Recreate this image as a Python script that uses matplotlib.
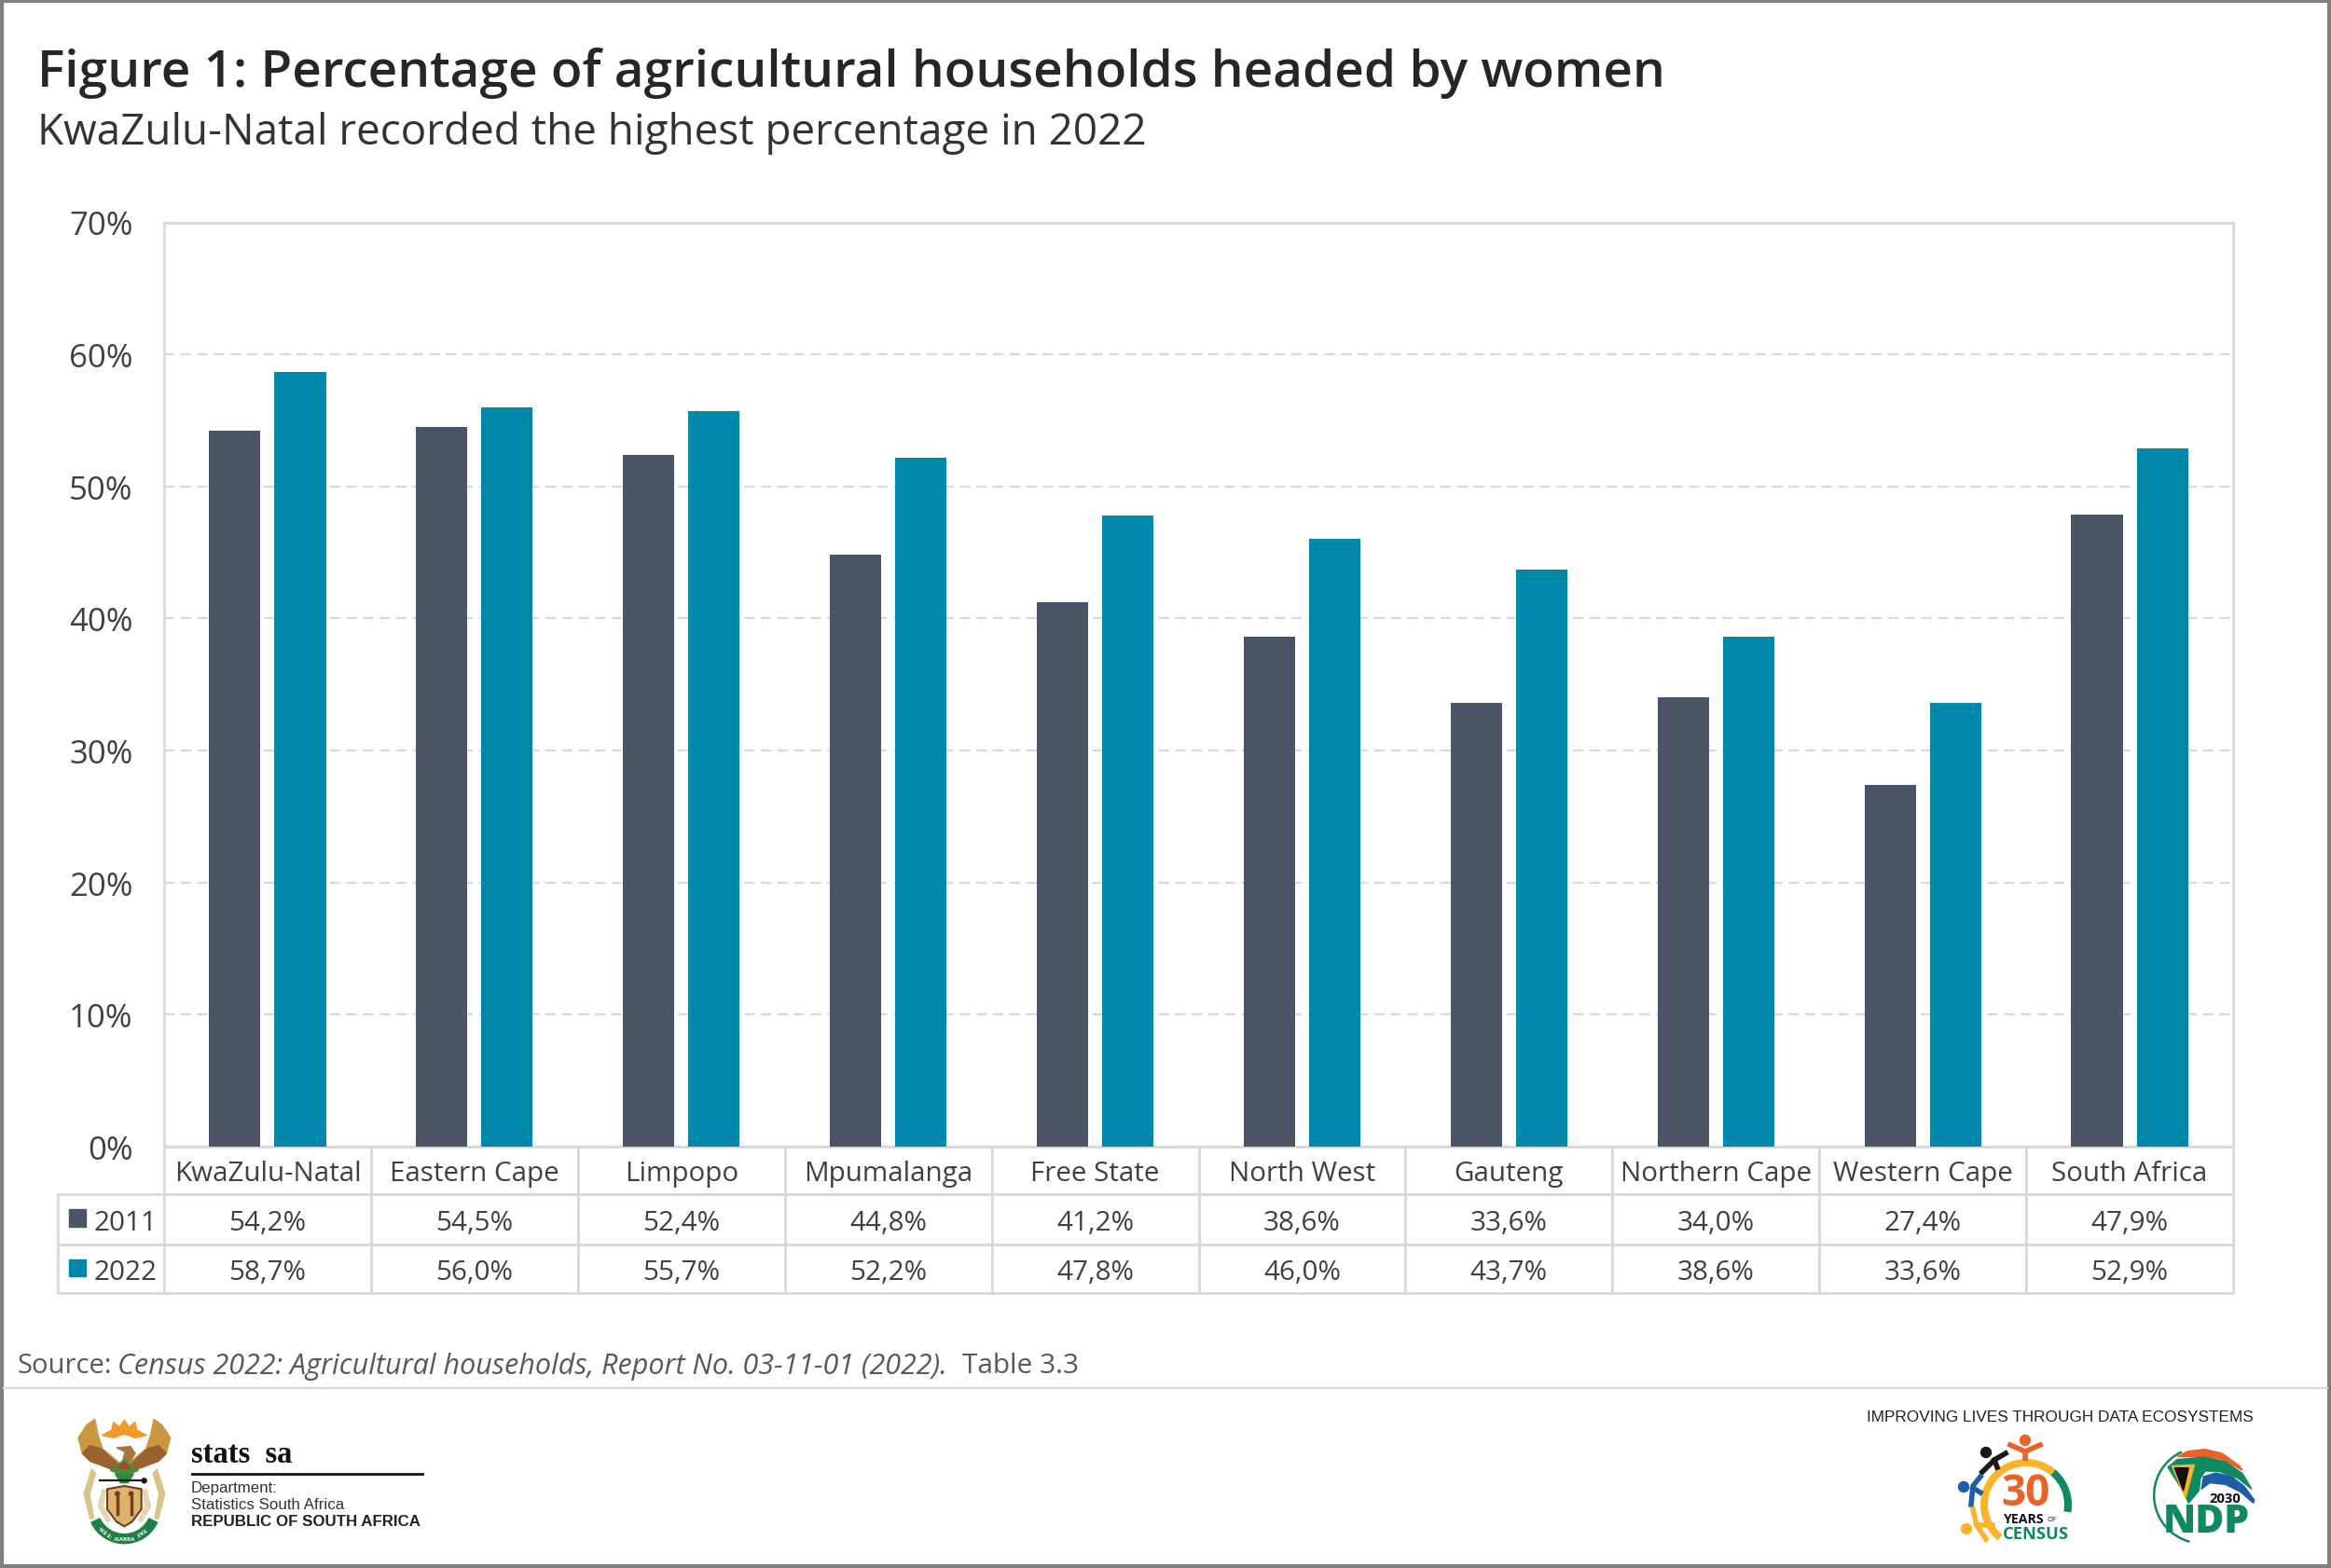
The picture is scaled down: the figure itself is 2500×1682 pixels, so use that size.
import matplotlib
matplotlib.use("Agg")
import matplotlib.pyplot as plt
from matplotlib.patches import Circle, Polygon, Arc, Rectangle, Wedge
import numpy as np

provinces = ["KwaZulu-Natal", "Eastern Cape", "Limpopo", "Mpumalanga", "Free State",
             "North West", "Gauteng", "Northern Cape", "Western Cape", "South Africa"]
values_2011 = [54.2, 54.5, 52.4, 44.8, 41.2, 38.6, 33.6, 34.0, 27.4, 47.9]
values_2022 = [58.7, 56.0, 55.7, 52.2, 47.8, 46.0, 43.7, 38.6, 33.6, 52.9]
y_ticks = [0, 10, 20, 30, 40, 50, 60, 70]

DARK = "#4b5565"
TEAL = "#0088aa"
LINE = "#d9d9d9"
TEXT = "#404040"
W, H = 2500, 1683

plt.rcParams["font.family"] = ["Open Sans", "DejaVu Sans"]


def pct(v):
    return ("%.1f%%" % v).replace(".", ",")


fig = plt.figure(figsize=(W / 100, H / 100), dpi=100, facecolor="white")

# main chart, placed in pixels of the picture
left, right, top, bottom = 176, 2395, 239.5, 1231
ax = fig.add_axes([left / W, 1 - bottom / H, (right - left) / W, (bottom - top) / H])
x = np.arange(len(provinces))
ax.bar(x - 0.158, values_2011, 0.248, color=DARK, zorder=3)
ax.bar(x + 0.158, values_2022, 0.248, color=TEAL, zorder=3)
ax.set_xlim(-0.5, len(provinces) - 0.5)
ax.set_ylim(0, 70)
ax.set_yticks(y_ticks)
ax.set_yticklabels(["%d%%" % t for t in y_ticks], fontsize=25, color=TEXT)
ax.tick_params(axis="y", length=0, pad=24)
ax.set_xticks([])
ax.grid(axis="y", color=LINE, linewidth=1.6, linestyle=(0, (5, 3)), zorder=1)
for s in ax.spines.values():
    s.set_color(LINE)
    s.set_linewidth(2)

# data table under the bars
t_left = 62
widths = [(left - t_left)] + [(right - left) / len(provinces)] * len(provinces)
t_w = float(sum(widths))
cells = [[""] + provinces,
         ["2011"] + [pct(v) for v in values_2011],
         ["2022"] + [pct(v) for v in values_2022]]
row_h = [51, 54, 52]
span = bottom - top
table = ax.table(cellText=cells, colWidths=[w / t_w for w in widths], cellLoc="center",
                 bbox=[(t_left - left) / (right - left), -157 / span, t_w / (right - left), 157 / span])
table.auto_set_font_size(False)
for (r, c), cell in table.get_celld().items():
    cell.set_height(row_h[r] / 157)
    cell.set_edgecolor(LINE)
    cell.set_linewidth(2)
    cell.set_text_props(fontsize=21.3, color=TEXT, va="center_baseline")
    if c == 0:
        cell.get_text().set_ha("right")
        cell._loc = "right"
        cell.PAD = 0.07
        if r == 0:
            cell.visible_edges = ""

# everything else is laid out in picture pixels
px = fig.add_axes([0, 0, 1, 1])
px.set_xlim(0, W)
px.set_ylim(H, 0)
px.axis("off")
px.patch.set_alpha(0)

px.text(40, 79, "Figure 1: Percentage of agricultural households headed by women",
        fontsize=39.6, fontweight=600, color="#262626", va="center")
px.text(40, 143, "KwaZulu-Natal recorded the highest percentage in 2022",
        fontsize=33, color="#333333", va="center")
px.text(18, 1466, "Source:", fontsize=21, color="#595959", va="center")
px.text(126, 1466, "Census 2022: Agricultural households, Report No. 03-11-01 (2022).",
        fontsize=22, color="#595959", va="center", style="italic")
px.text(1032, 1466, "Table 3.3", fontsize=21.5, color="#595959", va="center")

# legend keys in the table
px.add_patch(Rectangle((74, 1298), 18, 19, color=DARK))
px.add_patch(Rectangle((74, 1352), 18, 18, color=TEAL))

# footer rule and outer frame
px.plot([4, W - 4], [1490, 1490], color=LINE, lw=1.6)
px.add_patch(Rectangle((2, 2), W - 4, H - 4, fill=False, edgecolor="#7f7f7f", lw=3))


# coat of arms, sketched in the 3x crop units it was read from
def arms(pts):
    return [(60 + a / 3, 1510 + b / 3) for a, b in pts]


def mirror(pts):
    return [(440 - a, b) for a, b in pts]


gold, brown, tan = "#c9973f", "#9a6230", "#d8c38a"
wing = [(125, 40), (98, 60), (72, 100), (85, 150), (110, 175), (190, 205), (215, 190), (150, 135), (135, 90)]
feather = [(85, 150), (110, 175), (190, 205), (205, 190), (145, 135), (110, 125)]
for m in (lambda p: p, mirror):
    px.add_patch(Polygon(arms(m(wing)), color=gold))
    px.add_patch(Polygon(arms(m(feather)), color=brown))
    px.add_patch(Polygon(arms(m([(115, 200), (90, 280), (110, 360), (122, 360), (108, 280), (128, 215)])), color=tan))
    px.add_patch(Polygon(arms(m([(150, 265), (135, 320), (165, 372), (175, 365), (152, 320), (160, 270)])), color="#e4d6b0"))
rays = [(148, 92), (180, 75), (185, 50), (205, 65), (220, 42), (235, 65), (255, 50), (260, 75),
        (292, 92), (255, 100), (220, 88), (185, 100)]
px.add_patch(Polygon(arms(rays), color="#f29a2e"))
px.add_patch(Polygon(arms([(195, 132), (240, 128), (255, 150), (240, 175), (215, 175), (222, 145)]), color="#a5763f"))
px.add_patch(Polygon(arms([(220, 170), (265, 205), (220, 222), (175, 205)]), color="#4f8a3b"))
px.add_patch(Polygon(arms([(220, 180), (240, 198), (200, 198)]), color="#c0392b"))
px.add_patch(Polygon(arms([(220, 222), (250, 215), (232, 245), (208, 245), (190, 215)]), color="#2e8b3d"))
px.plot(*zip(*arms([(140, 238), (288, 238)])), color="#1a1a1a", lw=1.6)
px.add_patch(Circle(arms([(284, 238)])[0], 2.5, color="#1a1a1a"))
shield = [(165, 265), (220, 255), (275, 265), (275, 330), (245, 370), (220, 385), (195, 370), (165, 330)]
px.add_patch(Polygon(arms(shield), facecolor="#dcb36b", edgecolor="#6e3d1c", lw=1.5))
for sx in (198, 242):
    px.plot(*zip(*arms([(sx, 290), (sx, 345)])), color="#7a3b1a", lw=2.5)
    px.add_patch(Circle(arms([(sx, 280)])[0], 2.2, color="#7a3b1a"))
px.add_patch(Wedge(arms([(220, 323)])[0], 39, 25, 155, width=10, color="#1f7d45"))
for word, ang, rot in (("!KE E:", 128, -38), ("/XARRA", 90, 0), ("//KE", 54, 36)):
    px.text(133.3 + 34 * np.cos(np.radians(ang)), 1617.7 + 34 * np.sin(np.radians(ang)), word,
            fontsize=4.5, color="white", fontweight="bold", ha="center", va="center", rotation=rot)

px.text(205, 1561, "stats  sa", fontsize=23.5, family="Liberation Serif", fontweight="bold",
        color="#111111", va="center")
px.plot([206, 453], [1582, 1582], color="#111111", lw=2)
px.text(205, 1597, "Department:", fontsize=12.2, family="Liberation Sans", color="#333333", va="center")
px.text(205, 1615, "Statistics South Africa", fontsize=12.2, family="Liberation Sans", color="#333333", va="center")
px.text(205, 1633, "REPUBLIC OF SOUTH AFRICA", fontsize=12.2, family="Liberation Sans",
        fontweight="bold", color="#222222", va="center")

px.text(2417, 1521, "IMPROVING LIVES THROUGH DATA ECOSYSTEMS", fontsize=12.4,
        family="Liberation Sans", color="#222222", ha="right", va="center")

# 30 years of census logo
orange, yellow, green, blue = "#e8622a", "#fbb42c", "#0f8a5f", "#1c5fa8"
px.add_patch(Arc((2173, 1615), 90, 90, theta1=128, theta2=310, color=yellow, lw=5.8))
px.add_patch(Arc((2173, 1615), 90, 90, theta1=310, theta2=370, color=green, lw=5.8))
px.text(2172, 1603, "30", fontsize=33, fontweight="bold", color=orange, ha="center", va="center")
px.text(2149, 1630, "YEARS", fontsize=10.2, fontweight="bold", color="#111111", ha="left", va="center")
px.text(2195, 1631, "OF", fontsize=5.5, color="#111111", ha="left", va="center")
px.text(2183, 1646, "CENSUS", fontsize=13.2, fontweight="bold", color=green, ha="center", va="center")
px.add_patch(Circle((2172, 1546), 5.5, color=orange))
px.plot([2172, 2172, 2156], [1565, 1558, 1551], color=orange, lw=4)
px.plot([2172, 2188], [1558, 1551], color=orange, lw=4)
px.add_patch(Circle((2130, 1559), 5.5, color="#1a1a1a"))
px.plot([2126, 2139, 2151], [1580, 1567, 1560], color="#1a1a1a", lw=4)
px.plot([2139, 2142], [1567, 1575], color="#1a1a1a", lw=4)
px.add_patch(Circle((2106, 1596), 5.5, color=blue))
px.plot([2114, 2116, 2124], [1615, 1595, 1585], color=blue, lw=4)
px.plot([2116, 2124], [1597, 1602], color=blue, lw=4)
px.add_patch(Circle((2109, 1641), 5.5, color=yellow))
px.plot([2116, 2120, 2130], [1620, 1637, 1652], color=yellow, lw=4)
px.plot([2120, 2137], [1637, 1637], color=yellow, lw=4)


# NDP 2030 logo, also in 3x crop units
def ndp(pts):
    return [(2290 + a / 3, 1545 + b / 3) for a, b in pts]


px.add_patch(Arc(ndp([(215, 180)])[0], 103, 103, theta1=105, theta2=245, color=green, lw=1.8))
px.add_patch(Polygon(ndp([(135, 55), (170, 38), (225, 32), (280, 45), (335, 85), (345, 100), (280, 65), (220, 55)]),
                     color=orange))
px.add_patch(Polygon(ndp([(105, 90), (135, 65), (220, 57), (290, 72), (345, 110), (375, 160), (330, 125), (270, 103),
                          (225, 102), (210, 125), (205, 165), (172, 205), (150, 160)]), color=green))
px.add_patch(Polygon(ndp([(118, 85), (190, 82), (162, 190)]), color=yellow))
px.add_patch(Polygon(ndp([(127, 92), (172, 92), (155, 165)]), color="#111111"))
px.add_patch(Polygon(ndp([(213, 160), (220, 120), (260, 108), (310, 120), (350, 150), (383, 195), (380, 205),
                          (340, 170), (290, 145), (240, 140)]), color=blue))
px.text(2386, 1608, "2030", fontsize=10.7, fontweight="bold", color="#111111", ha="center", va="center")
px.text(2366, 1633, "NDP", fontsize=30.5, fontweight=800, color=green, ha="center", va="center")

fig.savefig("out.png", dpi=100, facecolor="white")
